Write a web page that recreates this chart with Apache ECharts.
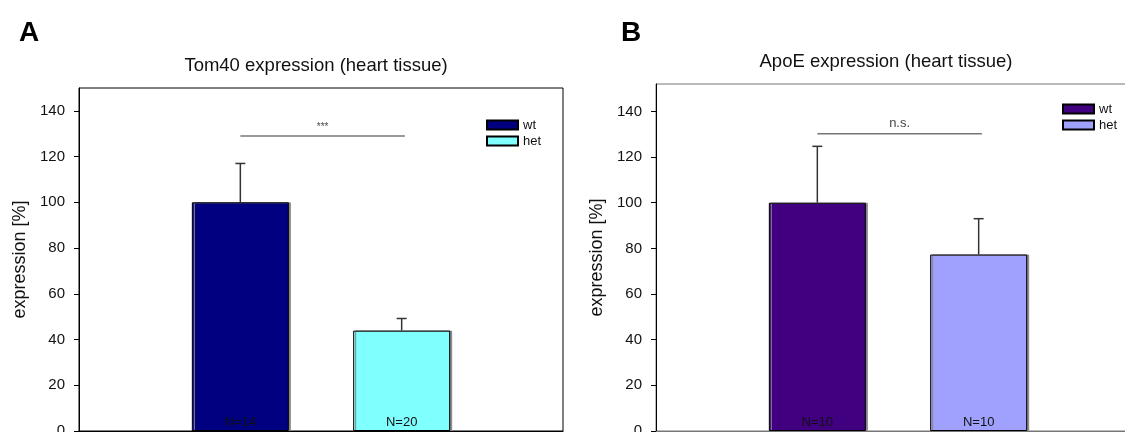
<!DOCTYPE html>
<html>
<head>
<meta charset="utf-8">
<script src="https://cdn.jsdelivr.net/npm/echarts@6/dist/echarts.min.js"></script>
<style>
  html, body { margin: 0; padding: 0; background: #fff; }
  #chart { width: 1125px; height: 432px; }
</style>
</head>
<body>
<div id="chart"></div>
<script>
// groups sit at x = 1 (wt) and x = 2 (het) on a 0..3 axis
const groups = ['wt', 'het'];
const groupPos = [1, 2];

// panel A: Tom40
const tomMeans = [100, 43.9];
const tomErrTop = [117, 49.2];
const tomN = ['N=14', 'N=20'];
const tomSigY = 129;
const tomSigText = '***';

// panel B: ApoE
const apoMeans = [100, 77.3];
const apoErrTop = [124.7, 93];
const apoN = ['N=10', 'N=10'];
const apoSigY = 130.2;
const apoSigText = 'n.s.';

const yTicks = [0, 20, 40, 60, 80, 100, 120, 140];

const FONT = 'Liberation Sans, Arial, sans-serif';

const chart = echarts.init(document.getElementById('chart'));

function yAxisFor(gridIndex, max) {
  return {
    gridIndex: gridIndex,
    type: 'value',
    min: 0,
    max: max,
    interval: 20,
    name: 'expression [%]',
    nameLocation: 'middle',
    nameGap: 50,
    nameTextStyle: { fontFamily: FONT, fontSize: 18, color: '#111' },
    axisLine: { show: true, lineStyle: { color: '#000', width: 1 } },
    axisTick: { show: true, length: 5, customValues: yTicks, lineStyle: { color: '#000' } },
    axisLabel: { customValues: yTicks, margin: 14, fontFamily: FONT, fontSize: 15, color: '#111' },
    splitLine: { show: false }
  };
}

function xAxisFor(gridIndex, lineColor) {
  return {
    gridIndex: gridIndex,
    type: 'value',
    min: 0,
    max: 3,
    axisLine: { show: true, lineStyle: { color: lineColor, width: 1 } },
    axisTick: { show: false },
    axisLabel: { show: false },
    splitLine: { show: false }
  };
}

function barSeries(name, axisIdx, idx, means, nLabels, color) {
  return {
    name: name,
    type: 'bar',
    xAxisIndex: axisIdx,
    yAxisIndex: axisIdx,
    barWidth: 97,
    barGap: '-100%',
    data: [[groupPos[idx], means[idx]]],
    itemStyle: {
      color: color,
      borderColor: '#000',
      borderWidth: 1,
      shadowColor: '#888',
      shadowOffsetX: 2,
      shadowBlur: 0
    },
    label: {
      show: true,
      position: 'insideBottom',
      distance: 2,
      formatter: nLabels[idx],
      fontFamily: FONT,
      fontSize: 13,
      color: '#111'
    }
  };
}

function errSeries(axisIdx, means, tops) {
  return {
    type: 'custom',
    xAxisIndex: axisIdx,
    yAxisIndex: axisIdx,
    z: 1,
    data: groupPos.map((x, i) => [x, means[i], tops[i]]),
    renderItem: function (params, api) {
      const base = api.coord([api.value(0), api.value(1)]);
      const top = api.coord([api.value(0), api.value(2)]);
      const style = { stroke: '#333', lineWidth: 1.5 };
      return {
        type: 'group',
        children: [
          { type: 'line', shape: { x1: base[0], y1: base[1], x2: top[0], y2: top[1] }, style: style },
          { type: 'line', shape: { x1: top[0] - 5, y1: top[1], x2: top[0] + 5, y2: top[1] }, style: style }
        ]
      };
    }
  };
}

function sigSeries(axisIdx, y, text, fontSize) {
  return [{
    type: 'line',
    xAxisIndex: axisIdx,
    yAxisIndex: axisIdx,
    symbol: 'none',
    silent: true,
    data: [[groupPos[0], y], [groupPos[1] + 0.02, y]],
    lineStyle: { color: '#777', width: 1.5 }
  }, {
    type: 'scatter',
    xAxisIndex: axisIdx,
    yAxisIndex: axisIdx,
    symbolSize: 0,
    data: [[(groupPos[0] + groupPos[1] + 0.02) / 2, y]],
    label: {
      show: true,
      position: 'top',
      distance: 4,
      formatter: text,
      fontFamily: FONT,
      fontSize: fontSize,
      color: '#111'
    }
  }];
}

const legendBase = {
  orient: 'vertical',
  icon: 'rect',
  itemWidth: 31,
  itemHeight: 9,
  itemGap: 2,
  padding: 0,
  textStyle: { fontFamily: FONT, fontSize: 13, color: '#111', lineHeight: 14 }
};

chart.setOption({
  animation: false,
  grid: [
    { left: 79, top: 88, width: 484, height: 343, show: true, borderColor: '#000', borderWidth: 1, outerBoundsMode: 'none' },
    { left: 656, top: 84, width: 484, height: 347, show: true, borderColor: '#777', borderWidth: 1, outerBoundsMode: 'none' }
  ],
  xAxis: [xAxisFor(0, '#000'), xAxisFor(1, '#777')],
  yAxis: [yAxisFor(0, 150), yAxisFor(1, 152)],
  legend: [
    Object.assign({}, legendBase, { left: 486, top: 118, data: ['wt A', 'het A'],
      formatter: n => n.split(' ')[0] }),
    Object.assign({}, legendBase, { left: 1062, top: 102, data: ['wt B', 'het B'],
      formatter: n => n.split(' ')[0] })
  ],
  graphic: [
    { type: 'text', left: 19, top: 19, style: { text: 'A', font: 'bold 28px ' + FONT, fill: '#000' } },
    { type: 'text', left: 621, top: 19, style: { text: 'B', font: 'bold 28px ' + FONT, fill: '#000' } },
    { type: 'text', x: 316, y: 66, style: { text: 'Tom40 expression (heart tissue)', font: '18.5px ' + FONT, fill: '#111', align: 'center', verticalAlign: 'middle' } },
    { type: 'text', x: 886, y: 62, style: { text: 'ApoE expression (heart tissue)', font: '18.5px ' + FONT, fill: '#111', align: 'center', verticalAlign: 'middle' } }
  ],
  series: [
    barSeries('wt A', 0, 0, tomMeans, tomN, '#000080'),
    barSeries('het A', 0, 1, tomMeans, tomN, '#80FFFF'),
    errSeries(0, tomMeans, tomErrTop),
    ...sigSeries(0, tomSigY, tomSigText, 10),
    barSeries('wt B', 1, 0, apoMeans, apoN, '#400080'),
    barSeries('het B', 1, 1, apoMeans, apoN, '#A0A0FF'),
    errSeries(1, apoMeans, apoErrTop),
    ...sigSeries(1, apoSigY, apoSigText, 13)
  ]
});
</script>
</body>
</html>
